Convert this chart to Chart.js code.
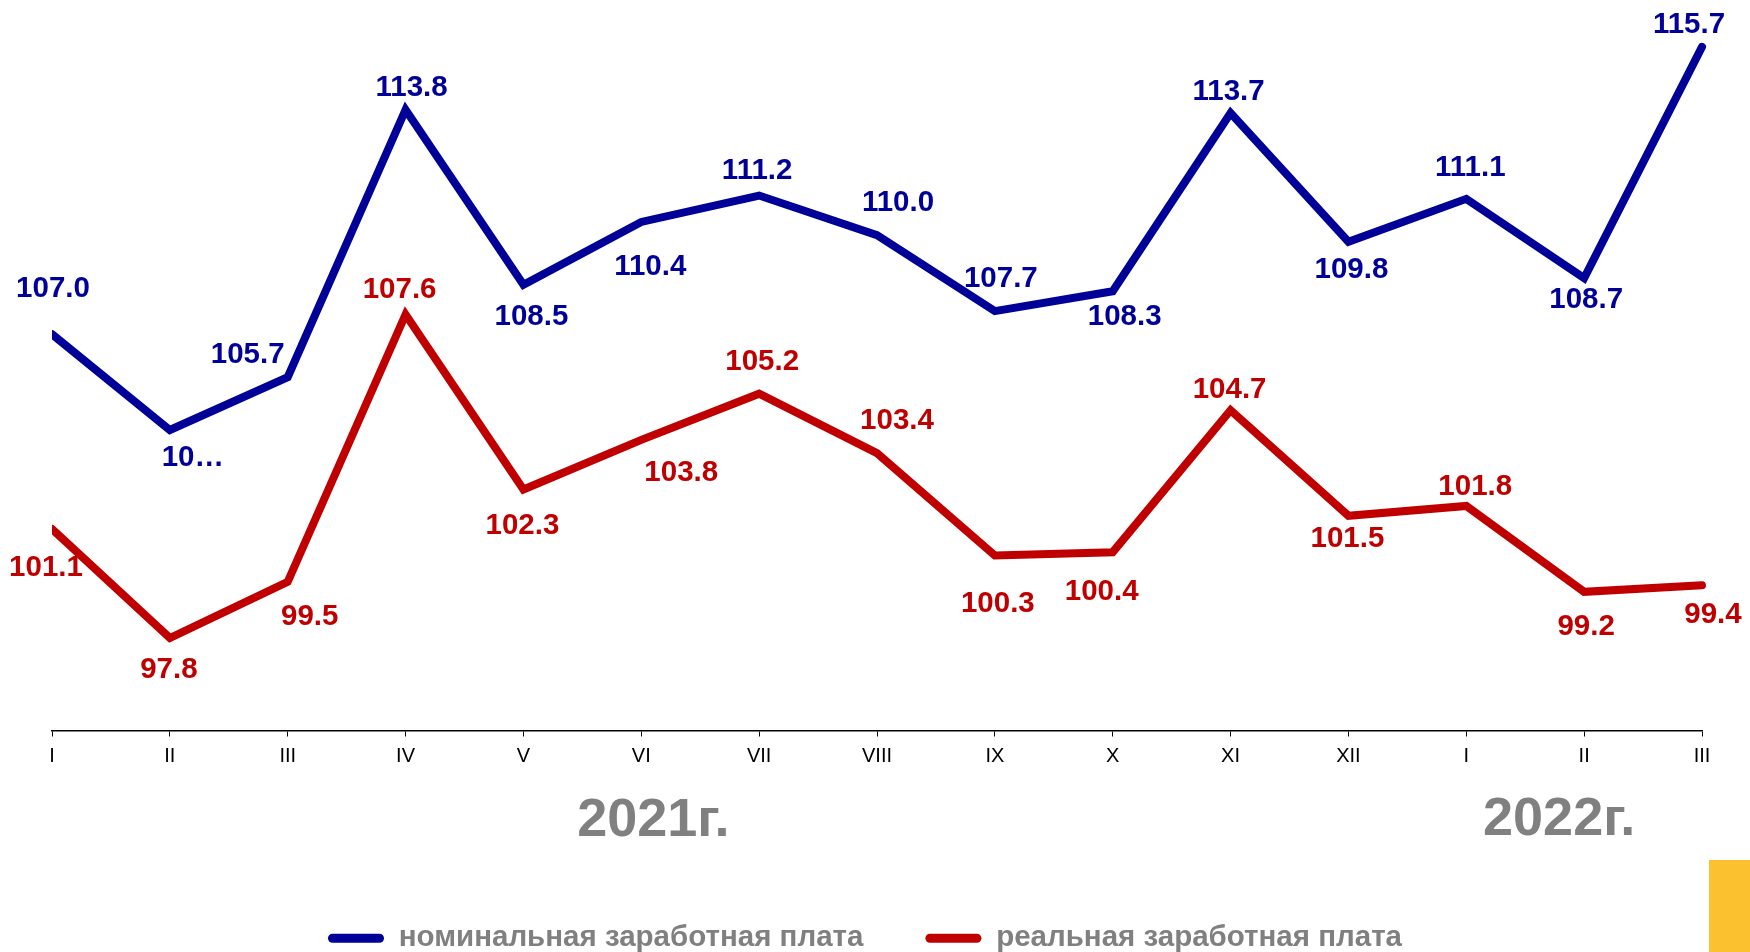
<!DOCTYPE html>
<html lang="ru">
<head>
    <meta charset="UTF-8">
    <title>Заработная плата</title>
    <script src="https://cdn.jsdelivr.net/npm/chart.js"></script>
    <style>
        html, body { margin: 0; padding: 0; background: #fff; }
        .chart-container { width: 1750px; height: 952px; position: relative; }
    </style>
</head>
<body>
    <div class="chart-container">
        <canvas id="wageChart"></canvas>
    </div>

    <script>
        // months (2021 I..XII, 2022 I..III)
        const months = ['I', 'II', 'III', 'IV', 'V', 'VI', 'VII', 'VIII', 'IX', 'X', 'XI', 'XII', 'I', 'II', 'III'];
        const years = ['2021г.', '2022г.'];

        const nominal = [107.0, 104.1, 105.7, 113.8, 108.5, 110.4, 111.2, 110.0, 107.7, 108.3, 113.7, 109.8, 111.1, 108.7, 115.7];
        const nominalText = ['107.0', '10…', '105.7', '113.8', '108.5', '110.4', '111.2', '110.0', '107.7', '108.3', '113.7', '109.8', '111.1', '108.7', '115.7'];

        const real = [101.1, 97.8, 99.5, 107.6, 102.3, 103.8, 105.2, 103.4, 100.3, 100.4, 104.7, 101.5, 101.8, 99.2, 99.4];
        const realText = ['101.1', '97.8', '99.5', '107.6', '102.3', '103.8', '105.2', '103.4', '100.3', '100.4', '104.7', '101.5', '101.8', '99.2', '99.4'];

        // label placement relative to each point (px)
        const nominalOffsets = [[1, -45], [23, 28], [-40, -22], [6, -22], [8, 32], [9, 45], [-2, -25], [21, -32], [6, -32], [12, 26], [-2, -21], [3, 28], [4, -31], [2, 22], [-13, -22]];
        const realOffsets = [[-6, 39], [-1, 32], [22, 35], [-6, -25], [-1, 36], [40, 33], [3, -32], [20, -32], [3, 48], [-11, 40], [-1, -20], [-1, 23], [9, -19], [2, 35], [11, 30]];

        const BLUE = '#000099';
        const RED = '#C00000';
        const GREY = '#808080';

        const labelPlugin = {
            id: 'pointLabels',
            afterDatasetsDraw(chart) {
                const ctx = chart.ctx;
                const texts = [nominalText, realText];
                const offs = [nominalOffsets, realOffsets];
                ctx.save();
                ctx.font = 'bold 29.5px "Liberation Sans", Arial, sans-serif';
                ctx.textAlign = 'center';
                ctx.textBaseline = 'middle';
                chart.data.datasets.forEach((ds, i) => {
                    ctx.fillStyle = ds.borderColor;
                    chart.getDatasetMeta(i).data.forEach((pt, j) => {
                        ctx.fillText(texts[i][j], pt.x + offs[i][j][0], pt.y + offs[i][j][1]);
                    });
                });
                ctx.restore();
            },
            afterDraw(chart) {
                const ctx = chart.ctx;
                const x = chart.scales.x;
                ctx.save();
                ctx.font = 'bold 54px "Liberation Sans", Arial, sans-serif';
                ctx.fillStyle = GREY;
                ctx.textAlign = 'center';
                ctx.textBaseline = 'middle';
                ctx.fillText(years[0], x.getPixelForValue(5) + 12, 821);
                ctx.fillText(years[1], x.getPixelForValue(13) - 25, 820);
                // yellow corner tab
                ctx.fillStyle = '#FCC12E';
                ctx.fillRect(1709, 860, 41, 92);
                ctx.restore();
            }
        };

        const ctx = document.getElementById('wageChart').getContext('2d');
        new Chart(ctx, {
            type: 'line',
            data: {
                labels: months,
                datasets: [{
                    label: 'номинальная заработная плата',
                    data: nominal,
                    borderColor: BLUE,
                    backgroundColor: BLUE,
                    borderWidth: 8,
                    pointRadius: 0,
                    tension: 0,
                    borderCapStyle: 'round',
                    borderJoinStyle: 'miter',
                    clip: { left: 0, right: 10, top: 10, bottom: 10 }
                }, {
                    label: 'реальная заработная плата',
                    data: real,
                    borderColor: RED,
                    backgroundColor: RED,
                    borderWidth: 8,
                    pointRadius: 0,
                    tension: 0,
                    borderCapStyle: 'round',
                    borderJoinStyle: 'miter',
                    clip: { left: 0, right: 10, top: 10, bottom: 10 }
                }]
            },
            options: {
                responsive: true,
                maintainAspectRatio: false,
                animation: false,
                layout: {
                    padding: { left: 28, right: 48, top: 4, bottom: -11 }
                },
                scales: {
                    x: {
                        offset: false,
                        grid: { display: true, drawOnChartArea: false, drawTicks: true, tickLength: 6, color: '#000', lineWidth: 1 },
                        border: { display: true, color: '#000', width: 1.5 },
                        ticks: {
                            color: '#000',
                            padding: 8,
                            maxRotation: 0,
                            autoSkip: false,
                            font: { family: '"Liberation Sans", Arial, sans-serif', size: 20 }
                        },
                        afterFit(scale) { scale.height = 131; }
                    },
                    y: {
                        display: true,
                        min: 95,
                        max: 117,
                        grid: { display: false },
                        border: { display: false },
                        ticks: { display: false },
                        afterFit(scale) { scale.width = 24; }
                    }
                },
                plugins: {
                    tooltip: { enabled: false },
                    legend: {
                        display: true,
                        position: 'bottom',
                        labels: {
                            boxWidth: 56,
                            boxHeight: 9,
                            padding: 62,
                            color: GREY,
                            useBorderRadius: true,
                            borderRadius: 4.5,
                            font: { family: '"Liberation Sans", Arial, sans-serif', size: 29.5, weight: 'bold' },
                            generateLabels(chart) {
                                return Chart.defaults.plugins.legend.labels.generateLabels(chart).map(l => {
                                    l.lineWidth = 0;
                                    l.fillStyle = chart.data.datasets[l.datasetIndex].borderColor;
                                    return l;
                                });
                            }
                        }
                    }
                }
            },
            plugins: [labelPlugin]
        });
    </script>
</body>
</html>
